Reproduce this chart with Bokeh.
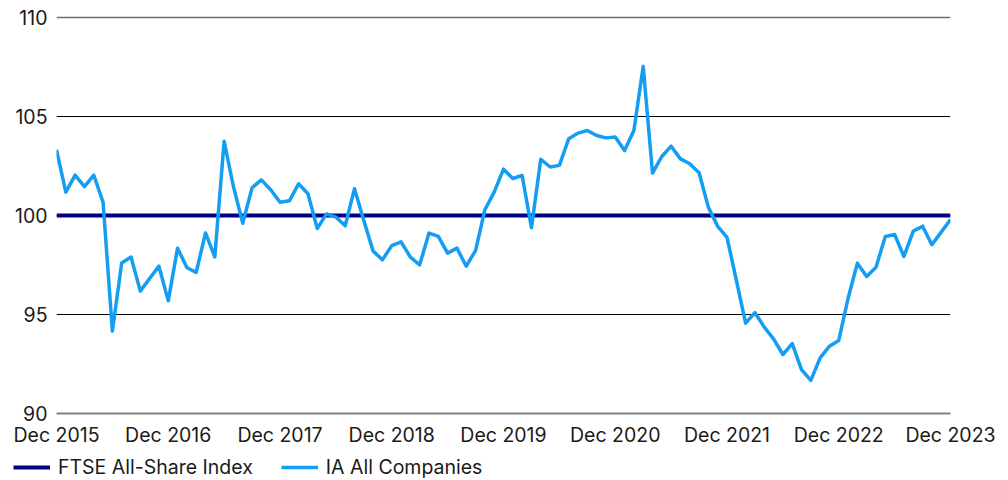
from bokeh.plotting import figure
from bokeh.layouts import column
from bokeh.models import FixedTicker, Legend, LegendItem, ColumnDataSource, Span
from bokeh.embed import file_html
from bokeh.resources import INLINE

# ---- data ----
month_index = list(range(97))  # Dec 2015 ... Dec 2023, monthly
tick_positions = [0, 12, 24, 36, 48, 60, 72, 84, 96]
tick_labels = ["Dec 2015", "Dec 2016", "Dec 2017", "Dec 2018", "Dec 2019",
               "Dec 2020", "Dec 2021", "Dec 2022", "Dec 2023"]
y_ticks = [90, 95, 100, 105, 110]
grid_ticks = [95, 100, 105]

ftse_values = [
    100, 100, 100, 100, 100, 100, 100, 100, 100, 100, 100, 100, 100,
    100, 100, 100, 100, 100, 100, 100, 100, 100, 100, 100, 100,
    100, 100, 100, 100, 100, 100, 100, 100, 100, 100, 100, 100,
    100, 100, 100, 100, 100, 100, 100, 100, 100, 100, 100, 100,
    100, 100, 100, 100, 100, 100, 100, 100, 100, 100, 100, 100,
    100, 100, 100, 100, 100, 100, 100, 100, 100, 100, 100, 100,
    100, 100, 100, 100, 100, 100, 100, 100, 100, 100, 100, 100,
    100, 100, 100, 100, 100, 100, 100, 100, 100, 100, 100, 100,
]
ia_values = [
    103.32, 101.18, 102.04, 101.46, 102.04, 100.67, 94.16, 97.60, 97.90, 96.18, 96.82, 97.44, 95.69,
    98.35, 97.37, 97.12, 99.12, 97.91, 103.75, 101.46, 99.61, 101.40, 101.80, 101.30, 100.67,
    100.74, 101.60, 101.10, 99.34, 100.08, 99.92, 99.48, 101.35, 99.75, 98.20, 97.76, 98.48,
    98.67, 97.90, 97.51, 99.11, 98.94, 98.10, 98.35, 97.44, 98.23, 100.29, 101.18, 102.34,
    101.87, 102.02, 99.38, 102.84, 102.45, 102.53, 103.87, 104.16, 104.29, 104.04, 103.92, 103.96,
    103.28, 104.29, 107.53, 102.14, 102.98, 103.50, 102.86, 102.61, 102.16, 100.42, 99.45, 98.90,
    96.73, 94.56, 95.09, 94.36, 93.77, 92.98, 93.53, 92.22, 91.67, 92.81, 93.40, 93.69,
    95.82, 97.59, 96.92, 97.39, 98.94, 99.04, 97.93, 99.21, 99.46, 98.52, 99.16, 99.80,
]
series_names = ["FTSE All-Share Index", "IA All Companies"]
series_colors = ["#000080", "#139ef3"]

FONT = "Inter"
TEXT = "#1a1a1a"
FS = "19.5px"

# ---- main chart ----
p = figure(
    frame_width=894, frame_height=398,
    x_range=(0, 96), y_range=(90, 110.1),
    output_backend="svg", toolbar_location=None,
    min_border_left=56, min_border_right=50, min_border_top=15, min_border_bottom=0,
)
p.outline_line_color = None
p.background_fill_color = "white"
p.border_fill_color = "white"

p.xgrid.visible = False
p.ygrid.ticker = FixedTicker(ticks=grid_ticks)
p.ygrid.grid_line_color = "#000000"
p.ygrid.grid_line_width = 1
p.add_layout(Span(location=110, dimension="width", line_color="#6e6e6e", line_width=1.5))

src = ColumnDataSource(dict(x=month_index, ftse=ftse_values, ia=ia_values))
p.line("x", "ftse", source=src, line_color=series_colors[0], line_width=4)
p.line("x", "ia", source=src, line_color=series_colors[1], line_width=3.5, line_join="round")

p.yaxis.ticker = FixedTicker(ticks=y_ticks)
p.yaxis.axis_line_color = None
p.yaxis.major_tick_line_color = None
p.yaxis.minor_tick_line_color = None
p.yaxis.major_tick_out = 0
p.yaxis.major_label_standoff = 9
p.yaxis.major_label_text_font = FONT
p.yaxis.major_label_text_font_size = FS
p.yaxis.major_label_text_color = TEXT

p.xaxis.ticker = FixedTicker(ticks=tick_positions)
p.xaxis.major_label_overrides = {t: l for t, l in zip(tick_positions, tick_labels)}
p.xaxis.axis_line_color = "#808080"
p.xaxis.axis_line_width = 2
p.xaxis.major_tick_line_color = None
p.xaxis.minor_tick_line_color = None
p.xaxis.major_tick_out = 0
p.xaxis.major_label_standoff = 9
p.xaxis.major_label_text_font = FONT
p.xaxis.major_label_text_font_size = FS
p.xaxis.major_label_text_color = TEXT

# ---- legend strip (its own small figure, legend drawn inside its frame) ----
p2 = figure(
    frame_width=1000, frame_height=38,
    x_range=(0, 1), y_range=(0, 1),
    x_axis_location=None, y_axis_location=None,
    output_backend="svg", toolbar_location=None, min_border=0,
)
p2.outline_line_color = None
p2.grid.visible = False
p2.background_fill_color = "white"
p2.border_fill_color = "white"
src2 = ColumnDataSource(dict(x=month_index, ftse=ftse_values, ia=ia_values))
l_ftse = p2.line("x", "ftse", source=src2, line_color=series_colors[0], line_width=4)
l_ia = p2.line("x", "ia", source=src2, line_color=series_colors[1], line_width=3.5)

legend = Legend(
    items=[LegendItem(label=series_names[0], renderers=[l_ftse]),
           LegendItem(label=series_names[1], renderers=[l_ia])],
    location=(13, 8), orientation="horizontal",
    margin=0, padding=0, spacing=28,
    glyph_width=37, glyph_height=22, label_height=22, label_standoff=8,
    label_text_font=FONT, label_text_font_size=FS, label_text_color=TEXT,
    border_line_alpha=0, background_fill_alpha=0,
)
p2.add_layout(legend)

open("out.html", "w").write(file_html(column(p, p2), INLINE))
